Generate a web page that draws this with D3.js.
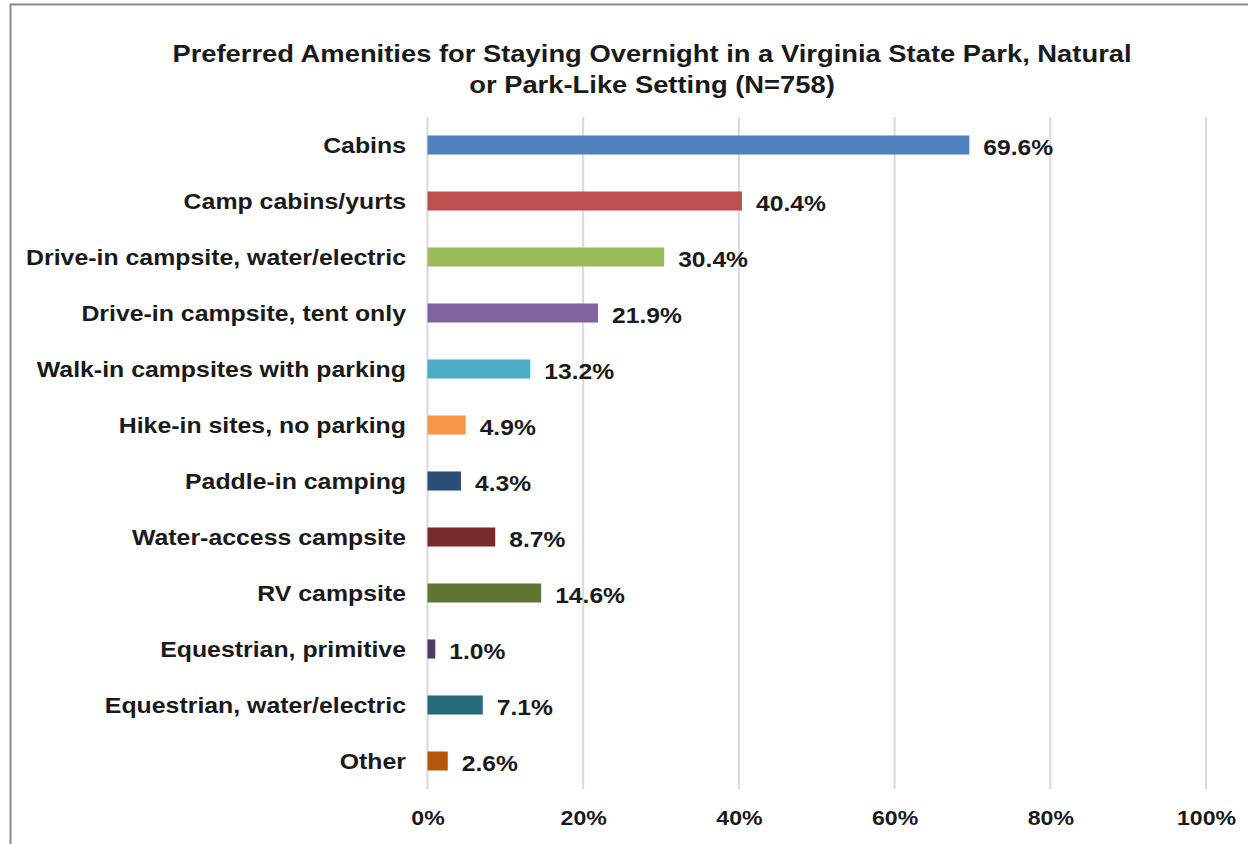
<!DOCTYPE html>
<html><head><meta charset="utf-8">
<script src="https://cdn.jsdelivr.net/npm/d3@7/dist/d3.min.js"></script>
<style>body{margin:0;background:#fff}svg{display:block}text{font-family:"Liberation Sans",Arial,sans-serif;font-weight:bold;fill:#1a1a1a}</style>
</head><body><svg id="c" width="1248" height="844"></svg>
<script>
const categories = ["Cabins","Camp cabins/yurts","Drive-in campsite, water/electric","Drive-in campsite, tent only","Walk-in campsites with parking","Hike-in sites, no parking","Paddle-in camping","Water-access campsite","RV campsite","Equestrian, primitive","Equestrian, water/electric","Other"];
const values = [69.6,40.4,30.4,21.9,13.2,4.9,4.3,8.7,14.6,1.0,7.1,2.6];
const colors = ["#4F81BD","#C0504D","#9BBB59","#8064A2","#4BACC6","#F79646","#2C4D75","#772C2A","#5F7530","#4D3B62","#276A7C","#B65708"];
const ticks = [0,20,40,60,80,100];
const titleLines = ["Preferred Amenities for Staying Overnight in a Virginia State Park, Natural","or Park-Like Setting (N=758)"];

const svg = d3.select("#c");
svg.append("rect").attr("x",10.5).attr("y",4.5).attr("width",1300).attr("height",900).attr("fill","none").attr("stroke","#8a8a8a").attr("stroke-width",2);

const x = d3.scaleLinear().domain([0,100]).range([427.5,1206]);
const y = d3.scaleBand().domain(categories).range([117,789]).paddingInner(0.66).paddingOuter(0.33);

svg.append("g").selectAll("line").data(ticks).join("line")
  .attr("x1",d=>x(d)).attr("x2",d=>x(d)).attr("y1",117).attr("y2",789)
  .attr("stroke","#d9d9d9").attr("stroke-width",2);

const xAxis = d3.axisBottom(x).tickValues(ticks).tickFormat(d=>d+"%").tickSize(0).tickPadding(0);
const ga = svg.append("g").attr("transform","translate(0,810)").call(xAxis);
ga.select(".domain").remove();
ga.selectAll("text").attr("y",0).attr("dy","0.71em").attr("transform","scale(1.1,1)")
  .style("font-size","21px").style("font-family","Liberation Sans, Arial, sans-serif").style("font-weight","bold").attr("fill","#1a1a1a");

svg.append("g").selectAll("rect").data(categories).join("rect")
  .attr("x",x(0)).attr("y",d=>y(d)).attr("height",y.bandwidth())
  .attr("width",(d,i)=>x(values[i])-x(0)).attr("fill",(d,i)=>colors[i]);

svg.append("g").selectAll("text").data(categories).join("text")
  .attr("transform",d=>`translate(406,${y(d)+y.bandwidth()/2}) scale(1.13,1)`).attr("dy","0.35em")
  .attr("text-anchor","end").style("font-size","22px").text(d=>d);

svg.append("g").selectAll("text").data(categories).join("text")
  .attr("transform",(d,i)=>`translate(${x(values[i])+14},${y(d)+y.bandwidth()/2+2}) scale(1.12,1)`).attr("dy","0.35em")
  .style("font-size","22px").text((d,i)=>values[i].toFixed(1)+"%");

svg.append("g").selectAll("text").data(titleLines).join("text")
  .attr("transform",(d,i)=>`translate(652,${54+i*31}) scale(1.19,1)`).attr("dy","0.35em").attr("text-anchor","middle")
  .style("font-size","23px").text(d=>d);
</script></body></html>
